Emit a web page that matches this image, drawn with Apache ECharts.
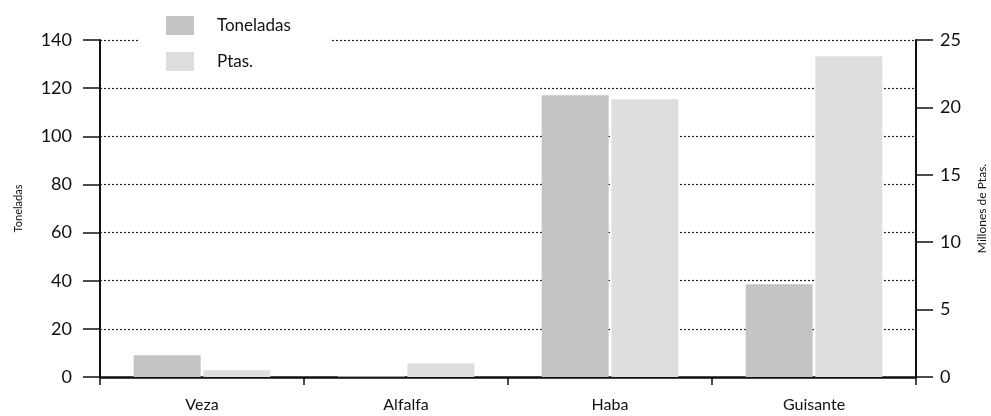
<!DOCTYPE html>
<html>
<head>
<meta charset="utf-8">
<script src="https://cdn.jsdelivr.net/npm/echarts@6/dist/echarts.min.js"></script>
<style>
  html, body { margin: 0; padding: 0; background: #fff; }
  #main { width: 991px; height: 416px; }
</style>
</head>
<body>
<div id="main"></div>
<script>
const categories = ['Veza', 'Alfalfa', 'Haba', 'Guisante'];
const toneladas = [9, 0.3, 117, 38.5];
const ptas = [0.5, 1.0, 20.6, 23.8];
const leftTicks = { min: 0, max: 140, interval: 20 };
const rightTicks = { min: 0, max: 25, interval: 5 };

const chart = echarts.init(document.getElementById('main'));
const font = 'Lato, "Open Sans", sans-serif';

const option = {
  animation: false,
  textStyle: { fontFamily: font },
  grid: { left: 100, right: 75, top: 40, bottom: 39, outerBoundsMode: 'none', containLabel: false },
  legend: {
    orient: 'vertical',
    left: 140,
    top: 10,
    padding: [6, 40, 8, 26],
    backgroundColor: '#fff',
    itemWidth: 28,
    itemHeight: 19,
    itemGap: 17,
    icon: 'rect',
    textStyle: { fontFamily: font, fontSize: 17, color: '#111', padding: [0, 0, 0, 18] },
    data: ['Toneladas', 'Ptas.']
  },
  xAxis: {
    type: 'category',
    data: categories,
    axisLine: { lineStyle: { color: '#111', width: 2.5 } },
    axisTick: { show: true, length: 8, lineStyle: { color: '#111', width: 1.5 } },
    axisLabel: { color: '#111', fontSize: 16, margin: 20, fontFamily: font }
  },
  yAxis: [
    {
      type: 'value',
      min: leftTicks.min, max: leftTicks.max, interval: leftTicks.interval,
      name: 'Toneladas',
      nameLocation: 'middle',
      nameGap: 76,
      nameRotate: 90,
      nameTextStyle: { fontSize: 11, color: '#111', fontFamily: font },
      axisLine: { show: true, lineStyle: { color: '#111', width: 2 } },
      axisTick: { show: true, length: 17, lineStyle: { color: '#111', width: 1.5 } },
      axisLabel: { color: '#111', fontSize: 18, margin: 28, fontFamily: font },
      splitLine: { show: true, lineStyle: { color: '#222', type: [2, 2], width: 1.2 } }
    },
    {
      type: 'value',
      min: rightTicks.min, max: rightTicks.max, interval: rightTicks.interval,
      name: 'Millones de Ptas.',
      nameLocation: 'middle',
      nameGap: 60,
      nameRotate: 90,
      nameTextStyle: { fontSize: 12, color: '#111', fontFamily: font },
      axisLine: { show: true, lineStyle: { color: '#111', width: 2 } },
      axisTick: { show: true, length: 17, lineStyle: { color: '#111', width: 1.5 } },
      axisLabel: { color: '#111', fontSize: 18, margin: 24, fontFamily: font },
      splitLine: { show: false }
    }
  ],
  series: [
    {
      name: 'Toneladas',
      type: 'bar',
      yAxisIndex: 0,
      data: toneladas,
      itemStyle: { color: '#c4c4c4' },
      barGap: '4%',
      barCategoryGap: '33%'
    },
    {
      name: 'Ptas.',
      type: 'bar',
      yAxisIndex: 1,
      data: ptas,
      itemStyle: { color: '#dedede' }
    }
  ]
};

chart.setOption(option);
</script>
</body>
</html>
